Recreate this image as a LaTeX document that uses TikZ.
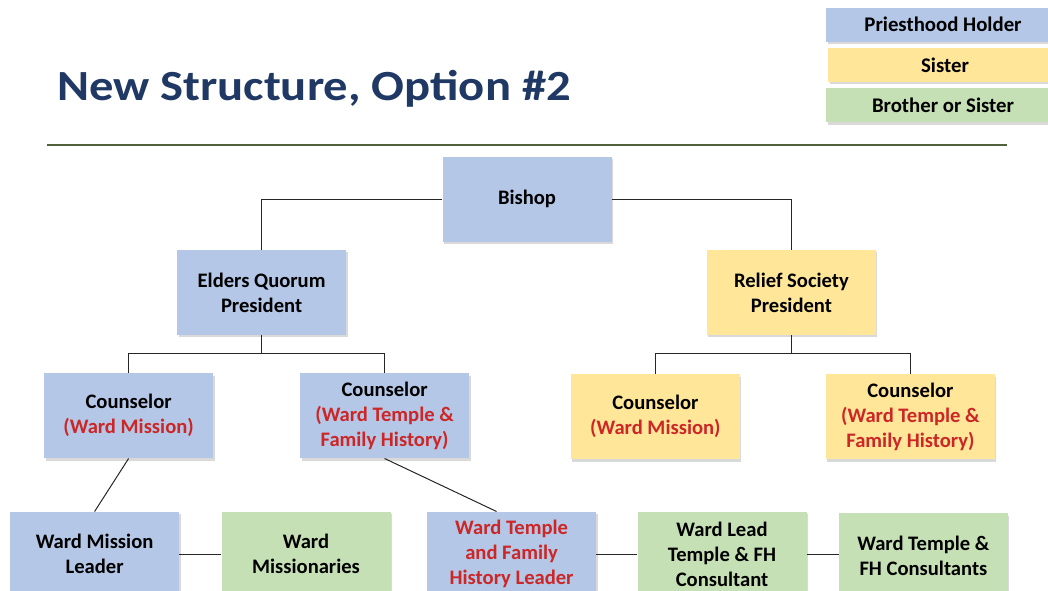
\documentclass[tikz,border=0pt]{standalone}
\usepackage{fontspec}
\setmainfont{Carlito}
\usepackage{tikz}
\usetikzlibrary{positioning, shadows}

\definecolor{phblue}{RGB}{180,199,231}
\definecolor{sisyellow}{RGB}{255,230,153}
\definecolor{bosgreen}{RGB}{197,224,180}
\definecolor{titleblue}{RGB}{32,56,100}
\definecolor{rulegreen}{RGB}{79,98,60}
\definecolor{redtxt}{RGB}{204,38,38}

\begin{document}
\begin{tikzpicture}[
  x=1pt, y=-1pt,
  conn/.style={draw, line width=1pt, black!85},
  box/.style={rectangle, align=center, inner sep=0pt,
              minimum width=169pt, minimum height=85pt,
              font=\fontsize{20.6}{25}\selectfont\bfseries,
              drop shadow={shadow xshift=1.5pt, shadow yshift=-2.5pt, opacity=0.3}},
  ph/.style={box, fill=phblue},
  sis/.style={box, fill=sisyellow},
  bos/.style={box, fill=bosgreen},
  legbox/.style={rectangle, align=center, inner sep=0pt,
              minimum width=234pt, minimum height=34pt,
              font=\fontsize{20.8}{22}\selectfont\bfseries,
              drop shadow={shadow xshift=1.5pt, shadow yshift=-2.5pt, opacity=0.3}}
]
\useasboundingbox (0,0) rectangle (1048,590);
\clip (0,0) rectangle (1048,590);

% =======================================================
%                     TITLE AND LEGEND
% =======================================================
\node[anchor=base west, text=titleblue, inner sep=0pt, transform shape, xscale=1.13,
      font=\fontsize{43}{48}\selectfont\bfseries] (title) at (57,100) {New Structure, Option \#2};
\coordinate (rule_l) at (47,145);
\coordinate (rule_r) at (1007,145);
\draw[rulegreen, line width=1.2pt] (rule_l) -- (rule_r);

\node[legbox, fill=phblue] (leg_ph) at (943,24.5) {Priesthood Holder};
\node[legbox, fill=sisyellow, below=6pt of leg_ph, xshift=2pt] (leg_sis) {Sister};
\node[legbox, fill=bosgreen, below=6pt of leg_sis, xshift=-2pt] (leg_bos) {Brother or Sister};

% =======================================================
%                     MAIN COMPONENTS
% =======================================================
\node[ph] (bishop) at (527,199) {Bishop};
\node[ph, below left=8pt and 96pt of bishop] (eqp) {Elders Quorum\\President};
\node[sis, below right=8pt and 95pt of bishop] (rsp) {Relief Society\\President};

% Elders Quorum counselors
\node[ph, below=38pt of eqp, xshift=-133pt] (eq_mission) {Counselor\\\textcolor{redtxt}{(Ward Mission)}};
\node[ph, below=38pt of eqp, xshift=123pt] (eq_temple) {Counselor\\\textcolor{redtxt}{(Ward Temple \&}\\\textcolor{redtxt}{Family History)}};

% Relief Society counselors
\node[sis, below=39pt of rsp, xshift=-136pt] (rs_mission) {Counselor\\\textcolor{redtxt}{(Ward Mission)}};
\node[sis, below=39pt of rsp, xshift=119pt] (rs_temple) {Counselor\\\textcolor{redtxt}{(Ward Temple \&}\\\textcolor{redtxt}{Family History)}};

% Bottom row
\node[ph, below=53pt of eq_mission, xshift=-34pt] (wml) {Ward Mission\\Leader};
\node[bos, right=42pt of wml] (wmis) {Ward\\Missionaries};
\node[ph, text=redtxt, below=53pt of eq_temple, xshift=127pt] (wtl) {Ward Temple\\and Family\\History Leader};
\node[bos, right=41pt of wtl] (wlc) {Ward Lead\\Temple \& FH\\Consultant};
\node[bos, right=32pt of wlc, yshift=-1.5pt] (wtc) {Ward Temple \&\\FH Consultants};

% =======================================================
%                     CONNECTIONS
% =======================================================

% Bishop -> presidents
\draw[conn] (bishop.west) -| (eqp.north);
\draw[conn] (bishop.east) -| (rsp.north);

% Presidents -> counselors
\draw[conn] (eqp.south) -- ++(0,18) -| (eq_mission.north);
\draw[conn] (eqp.south) -- ++(0,18) -| (eq_temple.north);
\draw[conn] (rsp.south) -- ++(0,18) -| (rs_mission.north);
\draw[conn] (rsp.south) -- ++(0,18) -| (rs_temple.north);

% Counselors -> leaders
\draw[conn] (eq_mission.south) -- (wml.north);
\draw[conn] (eq_temple.south) -- ([xshift=-15pt]wtl.north);

% Leaders -> helpers
\draw[conn] (wml.east) -- (wmis.west);
\draw[conn] (wtl.east) -- (wlc.west);
\draw[conn] (wlc.east) -- (wtc.west |- wlc.east);

\end{tikzpicture}
\end{document}
